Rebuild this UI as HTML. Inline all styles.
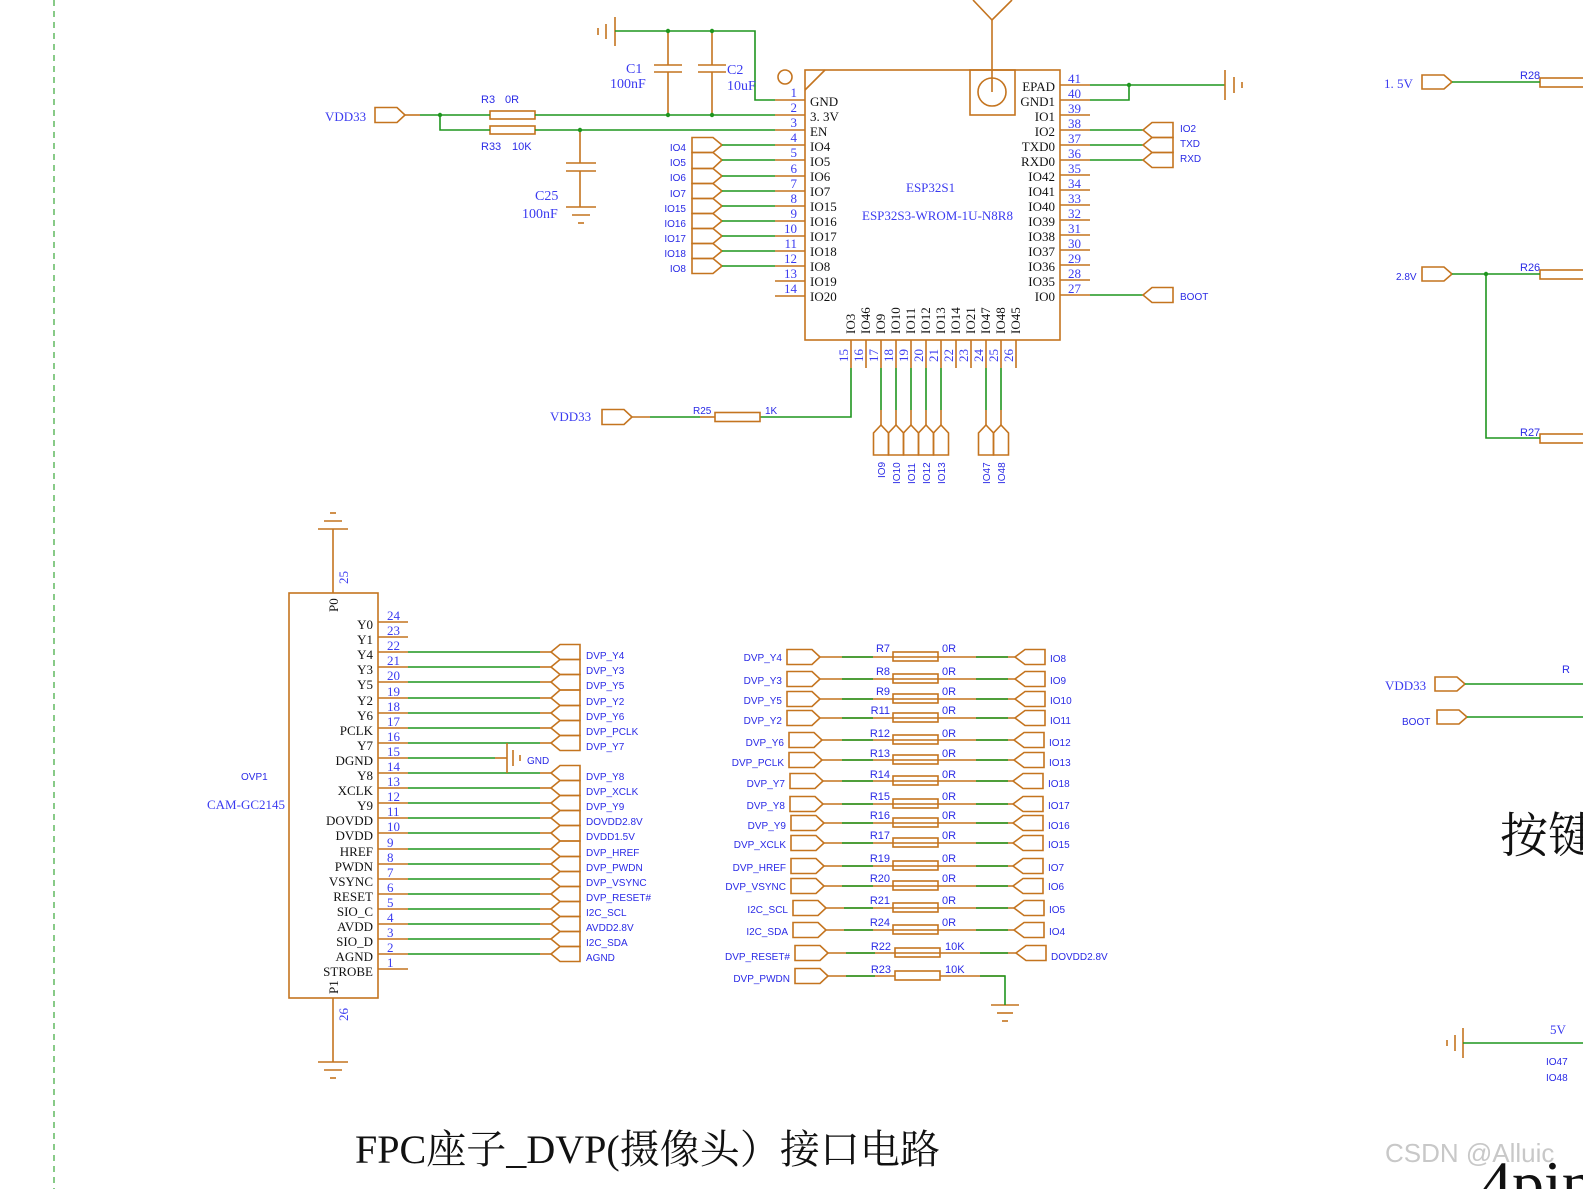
<!DOCTYPE html>
<html><head><meta charset="utf-8"><style>
html,body{margin:0;padding:0;background:#fff;}
svg{display:block;}
.o{stroke:#c4741f;stroke-width:1.6;fill:none;}
.g{stroke:#1f961f;stroke-width:1.6;fill:none;}
.s{font-family:"Liberation Serif","Noto Serif CJK SC",serif;font-size:13px;fill:#111;}
.n{font-family:"Liberation Serif",serif;font-size:13px;fill:#3b3bf0;}
.b{font-family:"Liberation Sans",sans-serif;font-size:10px;fill:#2a2ae6;}
.bs{font-family:"Liberation Serif",serif;font-size:13px;fill:#3b3bf0;}
</style></head><body>
<svg width="1583" height="1189" viewBox="0 0 1583 1189" xmlns="http://www.w3.org/2000/svg">
<line x1="54" y1="0" x2="54" y2="1189" stroke="#3aa83a" stroke-width="1.2" stroke-dasharray="6,5"/>

<!-- ===== ESP32 module ===== -->
<rect x="805" y="70" width="255" height="270" class="o"/>
<line x1="805" y1="90" x2="825" y2="70" class="o"/>
<circle cx="785" cy="77" r="7" class="o"/>
<rect x="970" y="70" width="45" height="45" class="o"/>
<circle cx="992" cy="92" r="14" class="o"/>
<polyline points="973,0 992,20 1012,0" class="o"/>
<line x1="992" y1="20" x2="992" y2="92" class="o"/>
<text x="906" y="192" class="n">ESP32S1</text>
<text x="862" y="220" class="n">ESP32S3-WROM-1U-N8R8</text>

<!-- left pins -->
<g class="o">
<line x1="775" y1="100" x2="805" y2="100"/><line x1="775" y1="115" x2="805" y2="115"/><line x1="775" y1="130" x2="805" y2="130"/><line x1="775" y1="145" x2="805" y2="145"/><line x1="775" y1="160" x2="805" y2="160"/><line x1="775" y1="176" x2="805" y2="176"/><line x1="775" y1="191" x2="805" y2="191"/><line x1="775" y1="206" x2="805" y2="206"/><line x1="775" y1="221" x2="805" y2="221"/><line x1="775" y1="236" x2="805" y2="236"/><line x1="775" y1="251" x2="805" y2="251"/><line x1="775" y1="266" x2="805" y2="266"/><line x1="775" y1="281" x2="805" y2="281"/><line x1="775" y1="296" x2="805" y2="296"/>
</g>
<g class="n" text-anchor="end">
<text x="797" y="97">1</text><text x="797" y="112">2</text><text x="797" y="127">3</text><text x="797" y="142">4</text><text x="797" y="157">5</text><text x="797" y="173">6</text><text x="797" y="188">7</text><text x="797" y="203">8</text><text x="797" y="218">9</text><text x="797" y="233">10</text><text x="797" y="248">11</text><text x="797" y="263">12</text><text x="797" y="278">13</text><text x="797" y="293">14</text>
</g>
<g class="s">
<text x="810" y="106">GND</text><text x="810" y="121">3. 3V</text><text x="810" y="136">EN</text><text x="810" y="151">IO4</text><text x="810" y="166">IO5</text><text x="810" y="181">IO6</text><text x="810" y="196">IO7</text><text x="810" y="211">IO15</text><text x="810" y="226">IO16</text><text x="810" y="241">IO17</text><text x="810" y="256">IO18</text><text x="810" y="271">IO8</text><text x="810" y="286">IO19</text><text x="810" y="301">IO20</text>
</g>

<!-- right pins -->
<g class="o">
<line x1="1060" y1="85" x2="1090" y2="85"/><line x1="1060" y1="100" x2="1090" y2="100"/><line x1="1060" y1="115" x2="1090" y2="115"/><line x1="1060" y1="130" x2="1090" y2="130"/><line x1="1060" y1="145" x2="1090" y2="145"/><line x1="1060" y1="160" x2="1090" y2="160"/><line x1="1060" y1="175" x2="1090" y2="175"/><line x1="1060" y1="190" x2="1090" y2="190"/><line x1="1060" y1="205" x2="1090" y2="205"/><line x1="1060" y1="220" x2="1090" y2="220"/><line x1="1060" y1="235" x2="1090" y2="235"/><line x1="1060" y1="250" x2="1090" y2="250"/><line x1="1060" y1="265" x2="1090" y2="265"/><line x1="1060" y1="280" x2="1090" y2="280"/><line x1="1060" y1="295" x2="1090" y2="295"/>
</g>
<g class="n">
<text x="1068" y="83">41</text><text x="1068" y="98">40</text><text x="1068" y="113">39</text><text x="1068" y="128">38</text><text x="1068" y="143">37</text><text x="1068" y="158">36</text><text x="1068" y="173">35</text><text x="1068" y="188">34</text><text x="1068" y="203">33</text><text x="1068" y="218">32</text><text x="1068" y="233">31</text><text x="1068" y="248">30</text><text x="1068" y="263">29</text><text x="1068" y="278">28</text><text x="1068" y="293">27</text>
</g>
<g class="s" text-anchor="end">
<text x="1055" y="91">EPAD</text><text x="1055" y="106">GND1</text><text x="1055" y="121">IO1</text><text x="1055" y="136">IO2</text><text x="1055" y="151">TXD0</text><text x="1055" y="166">RXD0</text><text x="1055" y="181">IO42</text><text x="1055" y="196">IO41</text><text x="1055" y="211">IO40</text><text x="1055" y="226">IO39</text><text x="1055" y="241">IO38</text><text x="1055" y="256">IO37</text><text x="1055" y="271">IO36</text><text x="1055" y="286">IO35</text><text x="1055" y="301">IO0</text>
</g>

<!-- bottom pins -->
<g class="o">
<line x1="851" y1="340" x2="851" y2="368"/><line x1="866" y1="340" x2="866" y2="368"/><line x1="881" y1="340" x2="881" y2="368"/><line x1="896" y1="340" x2="896" y2="368"/><line x1="911" y1="340" x2="911" y2="368"/><line x1="926" y1="340" x2="926" y2="368"/><line x1="941" y1="340" x2="941" y2="368"/><line x1="956" y1="340" x2="956" y2="368"/><line x1="971" y1="340" x2="971" y2="368"/><line x1="986" y1="340" x2="986" y2="368"/><line x1="1001" y1="340" x2="1001" y2="368"/><line x1="1016" y1="340" x2="1016" y2="368"/>
</g>
<g class="s">
<text transform="translate(855,334) rotate(-90)">IO3</text><text transform="translate(870,334) rotate(-90)">IO46</text><text transform="translate(885,334) rotate(-90)">IO9</text><text transform="translate(900,334) rotate(-90)">IO10</text><text transform="translate(915,334) rotate(-90)">IO11</text><text transform="translate(930,334) rotate(-90)">IO12</text><text transform="translate(945,334) rotate(-90)">IO13</text><text transform="translate(960,334) rotate(-90)">IO14</text><text transform="translate(975,334) rotate(-90)">IO21</text><text transform="translate(990,334) rotate(-90)">IO47</text><text transform="translate(1005,334) rotate(-90)">IO48</text><text transform="translate(1020,334) rotate(-90)">IO45</text>
</g>
<g class="n">
<text transform="translate(848,362) rotate(-90)">15</text><text transform="translate(863,362) rotate(-90)">16</text><text transform="translate(878,362) rotate(-90)">17</text><text transform="translate(893,362) rotate(-90)">18</text><text transform="translate(908,362) rotate(-90)">19</text><text transform="translate(923,362) rotate(-90)">20</text><text transform="translate(938,362) rotate(-90)">21</text><text transform="translate(953,362) rotate(-90)">22</text><text transform="translate(968,362) rotate(-90)">23</text><text transform="translate(983,362) rotate(-90)">24</text><text transform="translate(998,362) rotate(-90)">25</text><text transform="translate(1013,362) rotate(-90)">26</text>
</g>
<!-- bottom connectors -->
<g class="g">
<line x1="881" y1="368" x2="881" y2="410"/><line x1="896" y1="368" x2="896" y2="410"/><line x1="911" y1="368" x2="911" y2="410"/><line x1="926" y1="368" x2="926" y2="410"/><line x1="941" y1="368" x2="941" y2="410"/><line x1="986" y1="368" x2="986" y2="410"/><line x1="1001" y1="368" x2="1001" y2="410"/>
<polyline points="851,368 851,417 760,417"/><line x1="650" y1="417" x2="700" y2="417"/>
</g>
<g class="o">
<line x1="881" y1="410" x2="881" y2="425"/><line x1="896" y1="410" x2="896" y2="425"/><line x1="911" y1="410" x2="911" y2="425"/><line x1="926" y1="410" x2="926" y2="425"/><line x1="941" y1="410" x2="941" y2="425"/><line x1="986" y1="410" x2="986" y2="425"/><line x1="1001" y1="410" x2="1001" y2="425"/>
<path d="M873.5,455V433L881,425L888.5,433V455Z"/><path d="M888.5,455V433L896,425L903.5,433V455Z"/><path d="M903.5,455V433L911,425L918.5,433V455Z"/><path d="M918.5,455V433L926,425L933.5,433V455Z"/><path d="M933.5,455V433L941,425L948.5,433V455Z"/><path d="M978.5,455V433L986,425L993.5,433V455Z"/><path d="M993.5,455V433L1001,425L1008.5,433V455Z"/>
<path d="M602,409.5H624L632,417L624,424.5H602Z"/><line x1="632" y1="417" x2="650" y2="417"/><line x1="700" y1="417" x2="715" y2="417"/><rect x="715" y="412.5" width="45" height="9"/>
</g>
<g class="b">
<text transform="translate(885,478) rotate(-90)">IO9</text><text transform="translate(900,484) rotate(-90)">IO10</text><text transform="translate(915,484) rotate(-90)">IO11</text><text transform="translate(930,484) rotate(-90)">IO12</text><text transform="translate(945,484) rotate(-90)">IO13</text><text transform="translate(990,484) rotate(-90)">IO47</text><text transform="translate(1005,484) rotate(-90)">IO48</text>
<text x="693" y="414">R25</text><text x="765" y="414">1K</text>
</g>
<text x="550" y="421" class="bs">VDD33</text>

<!-- top-left power -->
<g class="o">
<line x1="615" y1="17" x2="615" y2="46"/><line x1="606" y1="24" x2="606" y2="39"/><line x1="598" y1="28" x2="598" y2="35"/>
<line x1="654" y1="65" x2="682" y2="65"/><line x1="654" y1="72" x2="682" y2="72"/>
<line x1="698" y1="65" x2="726" y2="65"/><line x1="698" y1="72" x2="726" y2="72"/>
<line x1="668" y1="31" x2="668" y2="65"/><line x1="668" y1="72" x2="668" y2="115"/>
<line x1="712" y1="31" x2="712" y2="65"/><line x1="712" y1="72" x2="712" y2="115"/>
<path d="M375,107.5H397L405,115L397,122.5H375Z"/>
<rect x="490" y="111" width="45" height="8"/><rect x="490" y="126" width="45" height="8"/>
<line x1="566" y1="163" x2="596" y2="163"/><line x1="566" y1="171" x2="596" y2="171"/>
<line x1="580" y1="171" x2="580" y2="207"/><line x1="580" y1="130" x2="580" y2="163"/>
<line x1="566" y1="207" x2="596" y2="207"/><line x1="572" y1="215" x2="590" y2="215"/><line x1="578" y1="223" x2="584" y2="223"/>
<line x1="405" y1="115" x2="420" y2="115"/>
</g>
<g class="g">
<polyline points="615,31 755,31 755,100 775,100"/>
<line x1="420" y1="115" x2="490" y2="115"/><line x1="535" y1="115" x2="775" y2="115"/>
<polyline points="440,115 440,130 490,130"/><line x1="535" y1="130" x2="775" y2="130"/>
</g>
<g fill="#1f961f"><circle cx="668" cy="31" r="2.2"/><circle cx="712" cy="31" r="2.2"/><circle cx="668" cy="115" r="2.2"/><circle cx="712" cy="115" r="2.2"/><circle cx="440" cy="115" r="2.2"/><circle cx="580" cy="130" r="2.2"/><circle cx="1129" cy="85" r="2.2"/><circle cx="1486" cy="274" r="2.2"/></g>
<text x="325" y="121" class="bs">VDD33</text>
<g class="b" style="font-size:11px"><text x="481" y="103">R3</text><text x="505" y="103">0R</text><text x="481" y="150">R33</text><text x="512" y="150">10K</text></g>
<g class="bs" style="font-size:14px"><text x="626" y="73">C1</text><text x="610" y="88">100nF</text><text x="727" y="74">C2</text><text x="727" y="90">10uF</text><text x="535" y="200">C25</text><text x="522" y="218">100nF</text></g>

<!-- left IO connectors -->
<g class="o">
<path d="M692,137.5H713L722,145L713,152.5H692Z"/><path d="M692,152.5H713L722,160L713,168.5H692Z"/><path d="M692,168.5H713L722,176L713,183.5H692Z"/><path d="M692,183.5H713L722,191L713,198.5H692Z"/><path d="M692,198.5H713L722,206L713,213.5H692Z"/><path d="M692,213.5H713L722,221L713,228.5H692Z"/><path d="M692,228.5H713L722,236L713,243.5H692Z"/><path d="M692,243.5H713L722,251L713,258.5H692Z"/><path d="M692,258.5H713L722,266L713,273.5H692Z"/>
</g>
<g class="g">
<line x1="722" y1="145" x2="775" y2="145"/><line x1="722" y1="160" x2="775" y2="160"/><line x1="722" y1="176" x2="775" y2="176"/><line x1="722" y1="191" x2="775" y2="191"/><line x1="722" y1="206" x2="775" y2="206"/><line x1="722" y1="221" x2="775" y2="221"/><line x1="722" y1="236" x2="775" y2="236"/><line x1="722" y1="251" x2="775" y2="251"/><line x1="722" y1="266" x2="775" y2="266"/>
</g>
<g class="b" text-anchor="end">
<text x="686" y="151">IO4</text><text x="686" y="166">IO5</text><text x="686" y="181">IO6</text><text x="686" y="197">IO7</text><text x="686" y="212">IO15</text><text x="686" y="227">IO16</text><text x="686" y="242">IO17</text><text x="686" y="257">IO18</text><text x="686" y="272">IO8</text>
</g>

<!-- right of ESP -->
<g class="g">
<line x1="1090" y1="85" x2="1225" y2="85"/><polyline points="1090,100 1129,100 1129,85"/>
<line x1="1090" y1="130" x2="1143" y2="130"/><line x1="1090" y1="145" x2="1143" y2="145"/><line x1="1090" y1="160" x2="1143" y2="160"/><line x1="1090" y1="295" x2="1143" y2="295"/>
</g>
<g class="o">
<line x1="1225" y1="70" x2="1225" y2="100"/><line x1="1234" y1="77" x2="1234" y2="93"/><line x1="1242" y1="82" x2="1242" y2="88"/>
<path d="M1143,130L1152,122.5H1173V137.5H1152Z"/><path d="M1143,145L1152,137.5H1173V152.5H1152Z"/><path d="M1143,160L1152,152.5H1173V167.5H1152Z"/><path d="M1143,295L1152,287.5H1173V302.5H1152Z"/>
</g>
<g class="b"><text x="1180" y="132">IO2</text><text x="1180" y="147">TXD</text><text x="1180" y="162">RXD</text><text x="1180" y="300">BOOT</text></g>

<!-- far right -->
<g class="o">
<path d="M1422,75H1444L1452,82L1444,89H1422Z"/><rect x="1540" y="78" width="50" height="9"/>
<path d="M1422,267H1444L1452,274L1444,281H1422Z"/><rect x="1540" y="270" width="50" height="9"/><rect x="1540" y="434" width="50" height="9"/>
<path d="M1435,677H1457L1465,684L1457,691H1435Z"/><path d="M1437,710H1459L1467,717L1459,724H1437Z"/>
<line x1="1463" y1="1028" x2="1463" y2="1058"/><line x1="1455" y1="1035" x2="1455" y2="1051"/><line x1="1447" y1="1040" x2="1447" y2="1046"/>
</g>
<g class="g">
<line x1="1452" y1="82" x2="1540" y2="82"/><line x1="1452" y1="274" x2="1540" y2="274"/><polyline points="1486,274 1486,438 1540,438"/>
<line x1="1465" y1="684" x2="1583" y2="684"/><line x1="1467" y1="717" x2="1583" y2="717"/><line x1="1463" y1="1043" x2="1583" y2="1043"/>
</g>
<text x="1384" y="88" class="bs">1. 5V</text>
<text x="1396" y="280" class="b">2.8V</text>
<g class="b" style="font-size:11px"><text x="1520" y="79">R28</text><text x="1520" y="271">R26</text><text x="1520" y="436">R27</text><text x="1562" y="673">R</text></g>
<text x="1385" y="690" class="bs">VDD33</text>
<text x="1402" y="725" class="b">BOOT</text>
<text x="1550" y="1034" class="bs">5V</text>
<text x="1546" y="1065" class="b">IO47</text><text x="1546" y="1081" class="b">IO48</text>
<text x="1500" y="852" style="font-family:'Noto Serif CJK SC',serif;font-size:48px;fill:#111">按键</text>
<text x="1480" y="1205" style="font-family:'Liberation Serif',serif;font-size:64px;fill:#111">4pin</text>
<text x="1385" y="1162" style="font-family:'Liberation Sans',sans-serif;font-size:26px;fill:#c8c8c8">CSDN @Alluic</text>

<!-- ===== Camera connector ===== -->
<rect x="289" y="593" width="89" height="405" class="o"/>
<g class="o">
<line x1="333" y1="529" x2="333" y2="593"/><line x1="318" y1="529" x2="348" y2="529"/><line x1="324" y1="521" x2="342" y2="521"/><line x1="330" y1="513" x2="336" y2="513"/>
<line x1="333" y1="998" x2="333" y2="1062"/><line x1="318" y1="1062" x2="348" y2="1062"/><line x1="324" y1="1070" x2="342" y2="1070"/><line x1="330" y1="1078" x2="336" y2="1078"/>
</g>
<g class="s"><text transform="translate(338,612) rotate(-90)">P0</text><text transform="translate(338,994) rotate(-90)">P1</text></g>
<g class="n"><text transform="translate(348,584) rotate(-90)">25</text><text transform="translate(348,1021) rotate(-90)">26</text></g>
<text x="241" y="780" class="b">OVP1</text>
<text x="207" y="809" class="bs">CAM-GC2145</text>

<g class="o">
<line x1="378" y1="622" x2="408" y2="622"/><line x1="378" y1="637" x2="408" y2="637"/><line x1="378" y1="652" x2="408" y2="652"/><line x1="378" y1="667" x2="408" y2="667"/><line x1="378" y1="682" x2="408" y2="682"/><line x1="378" y1="698" x2="408" y2="698"/><line x1="378" y1="713" x2="408" y2="713"/><line x1="378" y1="728" x2="408" y2="728"/><line x1="378" y1="743" x2="408" y2="743"/><line x1="378" y1="758" x2="408" y2="758"/><line x1="378" y1="773" x2="408" y2="773"/><line x1="378" y1="788" x2="408" y2="788"/><line x1="378" y1="803" x2="408" y2="803"/><line x1="378" y1="818" x2="408" y2="818"/><line x1="378" y1="833" x2="408" y2="833"/><line x1="378" y1="849" x2="408" y2="849"/><line x1="378" y1="864" x2="408" y2="864"/><line x1="378" y1="879" x2="408" y2="879"/><line x1="378" y1="894" x2="408" y2="894"/><line x1="378" y1="909" x2="408" y2="909"/><line x1="378" y1="924" x2="408" y2="924"/><line x1="378" y1="939" x2="408" y2="939"/><line x1="378" y1="954" x2="408" y2="954"/><line x1="378" y1="969" x2="408" y2="969"/>
</g>
<g class="n">
<text x="387" y="620">24</text><text x="387" y="635">23</text><text x="387" y="650">22</text><text x="387" y="665">21</text><text x="387" y="680">20</text><text x="387" y="696">19</text><text x="387" y="711">18</text><text x="387" y="726">17</text><text x="387" y="741">16</text><text x="387" y="756">15</text><text x="387" y="771">14</text><text x="387" y="786">13</text><text x="387" y="801">12</text><text x="387" y="816">11</text><text x="387" y="831">10</text><text x="387" y="847">9</text><text x="387" y="862">8</text><text x="387" y="877">7</text><text x="387" y="892">6</text><text x="387" y="907">5</text><text x="387" y="922">4</text><text x="387" y="937">3</text><text x="387" y="952">2</text><text x="387" y="967">1</text>
</g>
<g class="s" text-anchor="end">
<text x="373" y="629">Y0</text><text x="373" y="644">Y1</text><text x="373" y="659">Y4</text><text x="373" y="674">Y3</text><text x="373" y="689">Y5</text><text x="373" y="705">Y2</text><text x="373" y="720">Y6</text><text x="373" y="735">PCLK</text><text x="373" y="750">Y7</text><text x="373" y="765">DGND</text><text x="373" y="780">Y8</text><text x="373" y="795">XCLK</text><text x="373" y="810">Y9</text><text x="373" y="825">DOVDD</text><text x="373" y="840">DVDD</text><text x="373" y="856">HREF</text><text x="373" y="871">PWDN</text><text x="373" y="886">VSYNC</text><text x="373" y="901">RESET</text><text x="373" y="916">SIO_C</text><text x="373" y="931">AVDD</text><text x="373" y="946">SIO_D</text><text x="373" y="961">AGND</text><text x="373" y="976">STROBE</text>
</g>
<g class="g">
<line x1="408" y1="652" x2="540" y2="652"/><line x1="408" y1="667" x2="540" y2="667"/><line x1="408" y1="682" x2="540" y2="682"/><line x1="408" y1="698" x2="540" y2="698"/><line x1="408" y1="713" x2="540" y2="713"/><line x1="408" y1="728" x2="540" y2="728"/><line x1="408" y1="743" x2="540" y2="743"/><line x1="408" y1="758" x2="495" y2="758"/><line x1="408" y1="773" x2="540" y2="773"/><line x1="408" y1="788" x2="540" y2="788"/><line x1="408" y1="803" x2="540" y2="803"/><line x1="408" y1="818" x2="540" y2="818"/><line x1="408" y1="833" x2="540" y2="833"/><line x1="408" y1="849" x2="540" y2="849"/><line x1="408" y1="864" x2="540" y2="864"/><line x1="408" y1="879" x2="540" y2="879"/><line x1="408" y1="894" x2="540" y2="894"/><line x1="408" y1="909" x2="540" y2="909"/><line x1="408" y1="924" x2="540" y2="924"/><line x1="408" y1="939" x2="540" y2="939"/><line x1="408" y1="954" x2="540" y2="954"/>
</g>
<g class="o">
<line x1="495" y1="758" x2="507" y2="758"/><line x1="507" y1="743" x2="507" y2="773"/><line x1="513" y1="750" x2="513" y2="766"/><line x1="520" y1="755" x2="520" y2="761"/>
<line x1="540" y1="652" x2="551" y2="652"/><line x1="540" y1="667" x2="551" y2="667"/><line x1="540" y1="682" x2="551" y2="682"/><line x1="540" y1="698" x2="551" y2="698"/><line x1="540" y1="713" x2="551" y2="713"/><line x1="540" y1="728" x2="551" y2="728"/><line x1="540" y1="743" x2="551" y2="743"/><line x1="540" y1="773" x2="551" y2="773"/><line x1="540" y1="788" x2="551" y2="788"/><line x1="540" y1="803" x2="551" y2="803"/><line x1="540" y1="818" x2="551" y2="818"/><line x1="540" y1="833" x2="551" y2="833"/><line x1="540" y1="849" x2="551" y2="849"/><line x1="540" y1="864" x2="551" y2="864"/><line x1="540" y1="879" x2="551" y2="879"/><line x1="540" y1="894" x2="551" y2="894"/><line x1="540" y1="909" x2="551" y2="909"/><line x1="540" y1="924" x2="551" y2="924"/><line x1="540" y1="939" x2="551" y2="939"/><line x1="540" y1="954" x2="551" y2="954"/>
<path d="M551,652L560,644.5H580V659.5H560Z"/><path d="M551,667L560,659.5H580V674.5H560Z"/><path d="M551,682L560,674.5H580V690H560Z"/><path d="M551,698L560,690H580V705.5H560Z"/><path d="M551,713L560,705.5H580V720.5H560Z"/><path d="M551,728L560,720.5H580V735.5H560Z"/><path d="M551,743L560,735.5H580V750.5H560Z"/>
<path d="M551,773L560,765.5H580V780.5H560Z"/><path d="M551,788L560,780.5H580V795.5H560Z"/><path d="M551,803L560,795.5H580V810.5H560Z"/><path d="M551,818L560,810.5H580V825.5H560Z"/><path d="M551,833L560,825.5H580V841H560Z"/><path d="M551,849L560,841H580V856.5H560Z"/><path d="M551,864L560,856.5H580V871.5H560Z"/><path d="M551,879L560,871.5H580V886.5H560Z"/><path d="M551,894L560,886.5H580V901.5H560Z"/><path d="M551,909L560,901.5H580V916.5H560Z"/><path d="M551,924L560,916.5H580V931.5H560Z"/><path d="M551,939L560,931.5H580V946.5H560Z"/><path d="M551,954L560,946.5H580V961.5H560Z"/>
</g>
<g class="b">
<text x="586" y="659">DVP_Y4</text><text x="586" y="674">DVP_Y3</text><text x="586" y="689">DVP_Y5</text><text x="586" y="705">DVP_Y2</text><text x="586" y="720">DVP_Y6</text><text x="586" y="735">DVP_PCLK</text><text x="586" y="750">DVP_Y7</text><text x="527" y="764">GND</text>
<text x="586" y="780">DVP_Y8</text><text x="586" y="795">DVP_XCLK</text><text x="586" y="810">DVP_Y9</text><text x="586" y="825">DOVDD2.8V</text><text x="586" y="840">DVDD1.5V</text><text x="586" y="856">DVP_HREF</text><text x="586" y="871">DVP_PWDN</text><text x="586" y="886">DVP_VSYNC</text><text x="586" y="901">DVP_RESET#</text><text x="586" y="916">I2C_SCL</text><text x="586" y="931">AVDD2.8V</text><text x="586" y="946">I2C_SDA</text><text x="586" y="961">AGND</text>
</g>

<!-- ===== Resistor array ===== -->
<g class="o">
<path d="M787,649.5H812L820,657L812,664.5H787Z"/><path d="M787,671.5H812L820,679L812,686.5H787Z"/><path d="M787,691.5H812L820,699L812,706.5H787Z"/><path d="M787,710.5H812L820,718L812,725.5H787Z"/><path d="M789,732.5H814L822,740L814,747.5H789Z"/><path d="M789,752.5H814L822,760L814,767.5H789Z"/><path d="M790,773.5H815L823,781L815,788.5H790Z"/><path d="M790,796.5H815L823,804L815,811.5H790Z"/><path d="M791,815.5H816L824,823L816,830.5H791Z"/><path d="M791,835.5H816L824,843L816,850.5H791Z"/><path d="M791,858.5H816L824,866L816,873.5H791Z"/><path d="M791,878.5H816L824,886L816,893.5H791Z"/><path d="M793,900.5H818L826,908L818,915.5H793Z"/><path d="M793,922.5H818L826,930L818,937.5H793Z"/><path d="M795,945.5H820L828,953L820,960.5H795Z"/><path d="M795,968.5H820L828,976L820,983.5H795Z"/>
<rect x="893" y="652" width="45" height="9"/><rect x="893" y="674" width="45" height="9"/><rect x="893" y="694" width="45" height="9"/><rect x="893" y="713" width="45" height="9"/><rect x="893" y="735" width="45" height="9"/><rect x="893" y="755" width="45" height="9"/><rect x="893" y="776" width="45" height="9"/><rect x="893" y="799" width="45" height="9"/><rect x="893" y="818" width="45" height="9"/><rect x="893" y="838" width="45" height="9"/><rect x="893" y="861" width="45" height="9"/><rect x="893" y="881" width="45" height="9"/><rect x="893" y="903" width="45" height="9"/><rect x="893" y="925" width="45" height="9"/><rect x="895" y="948" width="45" height="9"/><rect x="895" y="971" width="45" height="9"/>
<path d="M1015,657L1025,649.5H1045V664.5H1025Z"/><path d="M1015,679L1025,671.5H1045V686.5H1025Z"/><path d="M1015,699L1025,691.5H1045V706.5H1025Z"/><path d="M1015,718L1025,710.5H1045V725.5H1025Z"/><path d="M1014,740L1024,732.5H1044V747.5H1024Z"/><path d="M1014,760L1024,752.5H1044V767.5H1024Z"/><path d="M1013,781L1023,773.5H1043V788.5H1023Z"/><path d="M1013,804L1023,796.5H1043V811.5H1023Z"/><path d="M1013,823L1023,815.5H1043V830.5H1023Z"/><path d="M1013,843L1023,835.5H1043V850.5H1023Z"/><path d="M1013,866L1023,858.5H1043V873.5H1023Z"/><path d="M1013,886L1023,878.5H1043V893.5H1023Z"/><path d="M1014,908L1024,900.5H1044V915.5H1024Z"/><path d="M1014,930L1024,922.5H1044V937.5H1024Z"/><path d="M1016,953L1026,945.5H1046V960.5H1026Z"/>
<line x1="991" y1="1005" x2="1019" y2="1005"/><line x1="997" y1="1013" x2="1013" y2="1013"/><line x1="1002" y1="1021" x2="1008" y2="1021"/>
</g>
<g stroke="#c4741f" stroke-width="1.6">
<line x1="820" y1="657" x2="1015" y2="657"/><line x1="820" y1="679" x2="1015" y2="679"/><line x1="820" y1="699" x2="1015" y2="699"/><line x1="820" y1="718" x2="1015" y2="718"/><line x1="822" y1="740" x2="1014" y2="740"/><line x1="822" y1="760" x2="1014" y2="760"/><line x1="823" y1="781" x2="1013" y2="781"/><line x1="823" y1="804" x2="1013" y2="804"/><line x1="824" y1="823" x2="1013" y2="823"/><line x1="824" y1="843" x2="1013" y2="843"/><line x1="824" y1="866" x2="1013" y2="866"/><line x1="824" y1="886" x2="1013" y2="886"/><line x1="826" y1="908" x2="1014" y2="908"/><line x1="826" y1="930" x2="1014" y2="930"/><line x1="828" y1="953" x2="1016" y2="953"/><line x1="828" y1="976" x2="895" y2="976"/><line x1="940" y1="976" x2="1005" y2="976"/>
</g>
<g class="g">
<line x1="842" y1="657" x2="873" y2="657"/><line x1="976" y1="657" x2="1008" y2="657"/><line x1="842" y1="679" x2="873" y2="679"/><line x1="976" y1="679" x2="1008" y2="679"/><line x1="842" y1="699" x2="873" y2="699"/><line x1="976" y1="699" x2="1008" y2="699"/><line x1="842" y1="718" x2="873" y2="718"/><line x1="976" y1="718" x2="1008" y2="718"/><line x1="842" y1="740" x2="873" y2="740"/><line x1="976" y1="740" x2="1008" y2="740"/><line x1="842" y1="760" x2="873" y2="760"/><line x1="976" y1="760" x2="1008" y2="760"/><line x1="842" y1="781" x2="873" y2="781"/><line x1="976" y1="781" x2="1008" y2="781"/><line x1="842" y1="804" x2="873" y2="804"/><line x1="976" y1="804" x2="1008" y2="804"/><line x1="842" y1="823" x2="873" y2="823"/><line x1="976" y1="823" x2="1008" y2="823"/><line x1="842" y1="843" x2="873" y2="843"/><line x1="976" y1="843" x2="1008" y2="843"/><line x1="842" y1="866" x2="873" y2="866"/><line x1="976" y1="866" x2="1008" y2="866"/><line x1="842" y1="886" x2="873" y2="886"/><line x1="976" y1="886" x2="1008" y2="886"/><line x1="844" y1="908" x2="873" y2="908"/><line x1="976" y1="908" x2="1008" y2="908"/><line x1="844" y1="930" x2="873" y2="930"/><line x1="976" y1="930" x2="1008" y2="930"/><line x1="846" y1="953" x2="875" y2="953"/><line x1="980" y1="953" x2="1008" y2="953"/><line x1="846" y1="976" x2="875" y2="976"/><polyline points="980,976 1005,976 1005,1005"/>
</g>
<g class="b" text-anchor="end">
<text x="782" y="661">DVP_Y4</text><text x="782" y="684">DVP_Y3</text><text x="782" y="704">DVP_Y5</text><text x="782" y="724">DVP_Y2</text><text x="784" y="746">DVP_Y6</text><text x="784" y="766">DVP_PCLK</text><text x="785" y="787">DVP_Y7</text><text x="785" y="809">DVP_Y8</text><text x="786" y="829">DVP_Y9</text><text x="786" y="848">DVP_XCLK</text><text x="786" y="871">DVP_HREF</text><text x="786" y="890">DVP_VSYNC</text><text x="788" y="913">I2C_SCL</text><text x="788" y="935">I2C_SDA</text><text x="790" y="960">DVP_RESET#</text><text x="790" y="982">DVP_PWDN</text>
</g>
<g class="b" style="font-size:11px">
<text x="890" y="652" text-anchor="end">R7</text><text x="942" y="652">0R</text>
<text x="890" y="675" text-anchor="end">R8</text><text x="942" y="675">0R</text>
<text x="890" y="695" text-anchor="end">R9</text><text x="942" y="695">0R</text>
<text x="890" y="714" text-anchor="end">R11</text><text x="942" y="714">0R</text>
<text x="890" y="737" text-anchor="end">R12</text><text x="942" y="737">0R</text>
<text x="890" y="757" text-anchor="end">R13</text><text x="942" y="757">0R</text>
<text x="890" y="778" text-anchor="end">R14</text><text x="942" y="778">0R</text>
<text x="890" y="800" text-anchor="end">R15</text><text x="942" y="800">0R</text>
<text x="890" y="819" text-anchor="end">R16</text><text x="942" y="819">0R</text>
<text x="890" y="839" text-anchor="end">R17</text><text x="942" y="839">0R</text>
<text x="890" y="862" text-anchor="end">R19</text><text x="942" y="862">0R</text>
<text x="890" y="882" text-anchor="end">R20</text><text x="942" y="882">0R</text>
<text x="890" y="904" text-anchor="end">R21</text><text x="942" y="904">0R</text>
<text x="890" y="926" text-anchor="end">R24</text><text x="942" y="926">0R</text>
<text x="891" y="950" text-anchor="end">R22</text><text x="945" y="950">10K</text>
<text x="891" y="973" text-anchor="end">R23</text><text x="945" y="973">10K</text>
</g>
<g class="b">
<text x="1050" y="662">IO8</text><text x="1050" y="684">IO9</text><text x="1050" y="704">IO10</text><text x="1050" y="724">IO11</text><text x="1049" y="746">IO12</text><text x="1049" y="766">IO13</text><text x="1048" y="787">IO18</text><text x="1048" y="809">IO17</text><text x="1048" y="829">IO16</text><text x="1048" y="848">IO15</text><text x="1048" y="871">IO7</text><text x="1048" y="890">IO6</text><text x="1049" y="913">IO5</text><text x="1049" y="935">IO4</text><text x="1051" y="960">DOVDD2.8V</text>
</g>

<text x="355" y="1163" textLength="585" lengthAdjust="spacingAndGlyphs" style="font-family:'Liberation Serif','Noto Serif CJK SC',serif;font-size:40px;fill:#111">FPC座子_DVP(摄像头）接口电路</text>
</svg>
</body></html>
